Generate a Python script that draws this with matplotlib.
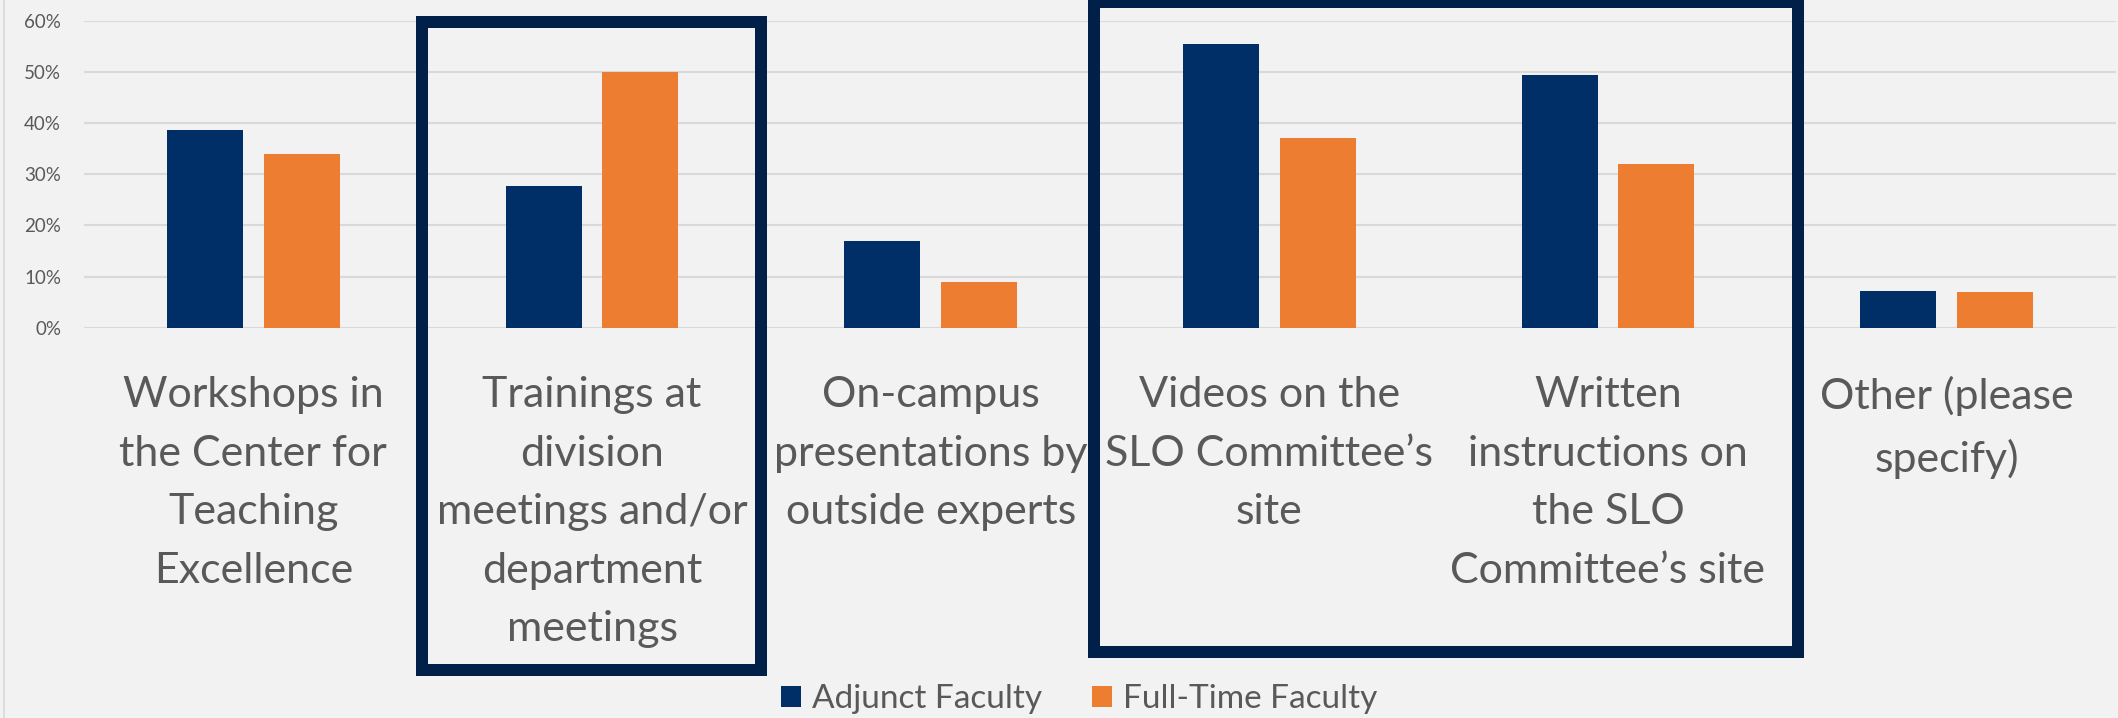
"""Grouped bar chart: preferred SLO training formats, adjunct vs full-time faculty."""

import matplotlib
matplotlib.use("Agg")
import matplotlib.pyplot as plt
from matplotlib.lines import Line2D
from matplotlib.patches import Rectangle
from matplotlib.ticker import PercentFormatter
from matplotlib.transforms import blended_transform_factory

categories = [
    "Workshops in\nthe Center for\nTeaching\nExcellence",
    "Trainings at\ndivision\nmeetings and/or\ndepartment\nmeetings",
    "On-campus\npresentations by\noutside experts",
    "Videos on the\nSLO Committee\u2019s\nsite",
    "Written\ninstructions on\nthe SLO\nCommittee\u2019s site",
    "Other (please\nspecify)",
]
adjunct = [38.6, 27.7, 16.9, 55.4, 49.3, 7.1]
full_time = [34.0, 50.0, 9.0, 37.0, 32.0, 7.0]
series_names = ["Adjunct Faculty", "Full-Time Faculty"]
y_ticks = [0, 10, 20, 30, 40, 50, 60]

NAVY = "#002E66"
ORANGE = "#ED7D31"
BOX = "#00204A"
BG = "#F2F2F2"
GRID = "#D9D9D9"
TEXT = "#595959"

plt.rcParams["font.family"] = ["Lato", "DejaVu Sans"]

W, H = 2118, 718
fig = plt.figure(figsize=(W / 100, H / 100), dpi=100, facecolor=BG)
ax = fig.add_axes([84 / W, 1 - 327.7 / H, 2032 / W, 307 / H])
ax.set_facecolor(BG)

x = list(range(len(categories)))
bw, off = 0.224, 0.143
ax.bar([i - off for i in x], adjunct, width=bw, color=NAVY, label=series_names[0], zorder=3)
ax.bar([i + off for i in x], full_time, width=bw, color=ORANGE, label=series_names[1], zorder=3)

ax.set_xlim(-0.5, len(categories) - 0.5)
ax.set_ylim(0, 60)
ax.set_yticks(y_ticks)
ax.yaxis.set_major_formatter(PercentFormatter(decimals=0))
ax.grid(axis="y", color=GRID, linewidth=1.5, zorder=0)
for s in ax.spines.values():
    s.set_visible(False)
ax.tick_params(axis="y", length=0, pad=16.5, labelsize=13.5, labelcolor=TEXT)
ax.tick_params(axis="x", length=0, pad=35, labelsize=31, labelcolor=TEXT)
ax.set_xticks(x)
ax.set_xticklabels(categories, linespacing=1.66)

# highlight boxes (x in data units, y in figure fraction)
tr = blended_transform_factory(ax.transData, fig.transFigure)
lw = 12 * 72 / 100
for x0, x1, y0, y1 in [(0.497, 1.498, 1 - 670.2 / H, 1 - 21.6 / H),
                       (2.483, 4.562, 1 - 652.3 / H, 1 - 2.3 / H)]:
    fig.add_artist(Rectangle((x0, y0), x1 - x0, y1 - y0, transform=tr, fill=False,
                             edgecolor=BOX, linewidth=lw, joinstyle="miter", clip_on=False,
                             zorder=5))

# chart area border on the left
fig.add_artist(Line2D([3.5 / W, 3.5 / W], [0, 1], color=GRID, linewidth=1.2))

fig.legend(loc="center", bbox_to_anchor=(1079 / W, 19 / H), ncol=2, frameon=False,
           fontsize=24, labelcolor=TEXT, handlelength=0.6, handleheight=0.6,
           handletextpad=0.32, columnspacing=1.5, borderpad=0, borderaxespad=0)

fig.savefig("out.png", dpi=100, facecolor=BG)
